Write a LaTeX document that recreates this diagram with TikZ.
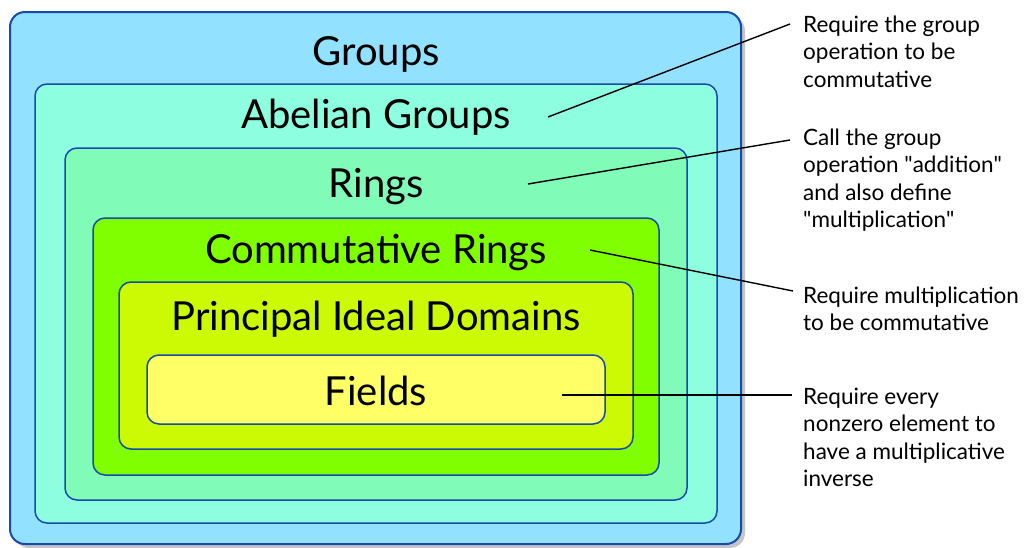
\documentclass[tikz,border=0pt]{standalone}
\usepackage{fontspec}
\setmainfont{Lato}
\usetikzlibrary{shadows}
\definecolor{edgeblue}{RGB}{22,74,172}
\definecolor{groupfill}{RGB}{146,225,254}
\definecolor{abelfill}{RGB}{142,254,224}
\definecolor{ringfill}{RGB}{128,251,184}
\definecolor{commfill}{RGB}{128,255,0}
\definecolor{pidfill}{RGB}{204,250,5}
\definecolor{fieldfill}{RGB}{255,255,102}

\begin{document}
\begin{tikzpicture}[x=1pt,y=-1pt,
    setbox/.style={rectangle, rounded corners=12pt, draw=edgeblue, line width=1.5pt, inner sep=0pt},
    title/.style={anchor=base, inner sep=0pt, font=\fontsize{40}{46}\selectfont},
    note/.style={anchor=north west, align=left, inner sep=0pt, font=\fontsize{22.5}{27.5}\selectfont},
    pointer/.style={line width=1.4pt}]
    \useasboundingbox (0,0) rectangle (1026,547);

    % nested classes, outermost first
    \node(groups)[setbox, fill=groupfill, rounded corners=15pt, line width=2pt,
        drop shadow={shadow xshift=4pt, shadow yshift=-4pt, fill=black!45},
        minimum width=731pt, minimum height=532pt] at (375.5,278) {};
    \node(abelian)[setbox, fill=abelfill, minimum width=682pt, minimum height=439pt] at (376,303.5) {};
    \node(rings)[setbox, fill=ringfill, minimum width=622pt, minimum height=352pt] at (376,324) {};
    \node(comm)[setbox, fill=commfill, minimum width=566pt, minimum height=257pt] at (376,346.5) {};
    \node(pid)[setbox, fill=pidfill, minimum width=514pt, minimum height=167pt] at (376,365.5) {};
    \node(fields)[setbox, fill=fieldfill, minimum width=458pt, minimum height=69pt] at (376,389.5) {};

    \node(groupsname)[title] at (376,65) {Groups};
    \node(abelianname)[title] at (376,128) {Abelian Groups};
    \node(ringsname)[title] at (376,197) {Rings};
    \node(commname)[title] at (376,263) {Commutative Rings};
    \node(pidname)[title] at (376,330) {Principal Ideal Domains};
    \node(fieldsname)[title] at (376,405) {Fields};

    % side notes
    \node(note1)[note] at (803,15.5) {Require the group\\operation to be\\commutative};
    \node(note2)[note] at (803,128.5) {Call the group\\operation \textquotedbl addition\textquotedbl\\and also define\\\textquotedbl multiplication\textquotedbl};
    \node(note3)[note] at (803,286.5) {Require multiplication\\to be commutative};
    \node(note4)[note] at (803,387.5) {Require every\\nonzero element to\\have a multiplicative\\inverse};

    \coordinate(c1) at (548,117);
    \coordinate(c2) at (528,184);
    \coordinate(c3) at (590,250);
    \coordinate(c4) at (562,395);

    \draw[pointer] (c1) -- ([shift={(-13,8.5)}]note1.north west);
    \draw[pointer] (c2) -- ([shift={(-13,11.5)}]note2.north west);
    \draw[pointer] (c3) -- ([shift={(-10,4.5)}]note3.north west);
    \draw[pointer] (c4) -- ([shift={(-11,7.5)}]note4.north west);
  \end{tikzpicture}
\end{document}
